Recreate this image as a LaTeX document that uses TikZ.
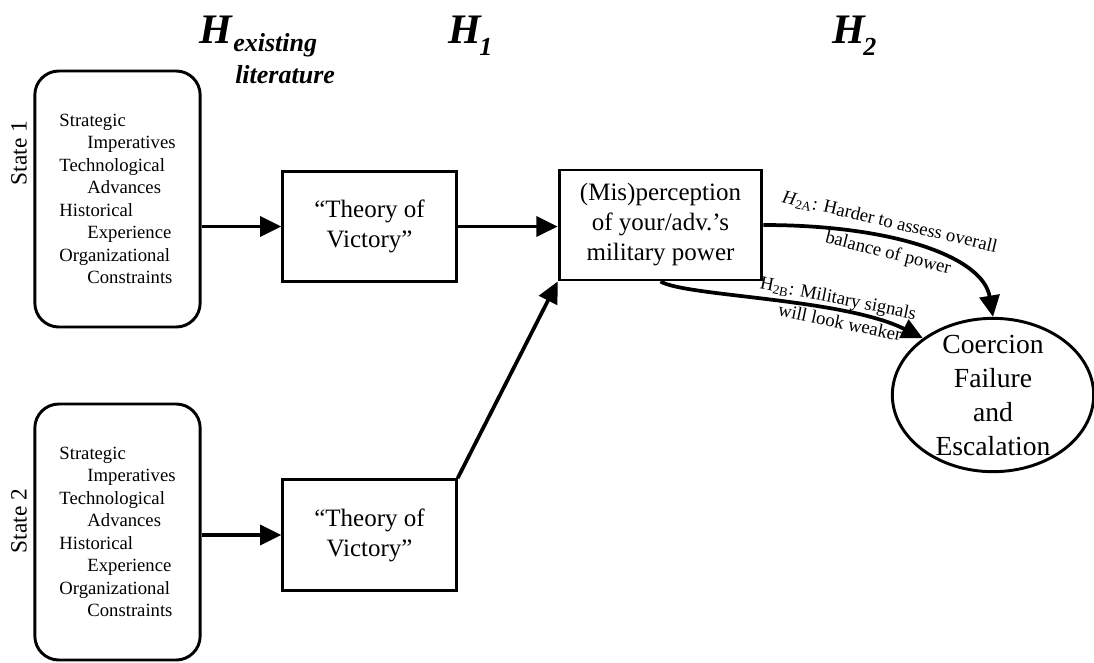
\documentclass[tikz,border=0pt]{standalone}
\usepackage{fontspec}
\setmainfont{Liberation Serif}
\usetikzlibrary{arrows.meta,shapes.geometric}

\newcommand{\indt}{\hspace*{1.5em}}

\tikzset{
  hdr/.style={inner sep=0pt, font=\fontsize{31.5}{36}\selectfont\bfseries\itshape},
  hsub/.style={inner sep=0pt, font=\fontsize{19.5}{22}\selectfont\bfseries\itshape},
  statebox/.style={draw, line width=2.2pt, rounded corners=18pt, minimum width=124pt,
    minimum height=192pt, align=left, font=\fontsize{14}{16.9}\selectfont},
  statelbl/.style={rotate=90, inner sep=0pt, font=\fontsize{17.5}{20}\selectfont},
  theorybox/.style={draw, line width=2.2pt, minimum width=130pt, minimum height=83pt,
    align=center, font=\fontsize{18.75}{22.5}\selectfont},
  percbox/.style={draw, line width=2.2pt, minimum width=152pt, minimum height=82.5pt,
    align=center, font=\fontsize{18.75}{22.5}\selectfont},
  outcome/.style={draw, ellipse, line width=2.2pt, inner sep=0pt, minimum width=151pt,
    minimum height=115pt},
  arr/.style={line width=2.8pt, -{Triangle[length=16pt,width=15pt]}},
  lbl/.style={inner sep=1pt, align=center, font=\fontsize{14}{16}\selectfont}
}

\begin{document}
\begin{tikzpicture}[x=0.75pt, y=-0.75pt]
  \useasboundingbox (0,0) rectangle (1094,662);

  \node[hdr, anchor=base west] (hx) at (199,43) {H};
  \node[hsub, anchor=base west] (hxs) at (233,51) {existing};
  \node[hsub, anchor=base west] (hxl) at (235,83) {literature};
  \node[hdr, anchor=base west] (h1) at (448,43) {H};
  \node[hsub, anchor=base west] (h1s) at (479,55) {1};
  \node[hdr, anchor=base west] (h2) at (832,43) {H};
  \node[hsub, anchor=base west] (h2s) at (863,55) {2};

  \node[statebox] (s1) at (117.5,199) {Strategic\\\indt Imperatives\\Technological\\\indt Advances\\Historical\\\indt Experience\\Organizational\\\indt Constraints};
  \node[statebox] (s2) at (117.5,532) {Strategic\\\indt Imperatives\\Technological\\\indt Advances\\Historical\\\indt Experience\\Organizational\\\indt Constraints};
  \node[statelbl] (l1) at (19,153) {State 1};
  \node[statelbl] (l2) at (19,521) {State 2};

  \node[theorybox] (th1) at (369.5,226.5) {``Theory of\\Victory''};
  \node[theorybox] (th2) at (369.5,535) {``Theory of\\Victory''};
  \node[percbox] (mis) at (660.5,225) {(Mis)perception\\of your/adv.'s\\military power};

  \node[outcome] (cf) at (993,395) {};
  \node[align=center, font=\fontsize{20.7}{25.5}\selectfont] (cft) at (cf) {Coercion\\Failure\\and\\Escalation};

  \draw[arr] (s1.east |- th1) -- (th1.west);
  \draw[arr] (s2.east |- th2) -- (th2.west);
  \draw[arr] (th1.east) -- (th1.east -| mis.west);
  \draw[arr] (th2.north east) -- (mis.south west);
  \draw[arr] (mis.east) .. controls +(130,0) and +(-10,-60) .. (cf.north)
    node[lbl, sloped, above=3pt, pos=0.36] {\textit{H}\textsubscript{2A}: Harder to assess overall}
    node[lbl, sloped, below=3pt, pos=0.38] {balance of power};
  \draw[arr] (mis.south) .. controls +(25,15) and +(-80,-40) .. (cf.141)
    node[lbl, sloped, above, pos=0.7] {H\textsubscript{2B}: Military signals}
    node[lbl, sloped, below, pos=0.72] {will look weaker};
\end{tikzpicture}
\end{document}
